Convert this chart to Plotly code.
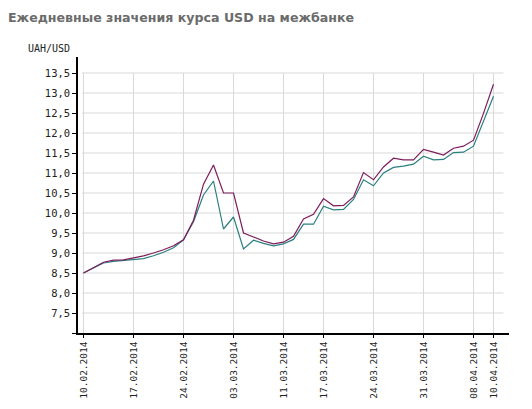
import plotly.graph_objects as go

dates = ["10.02.2014", "11.02.2014", "12.02.2014", "13.02.2014", "14.02.2014",
         "17.02.2014", "18.02.2014", "19.02.2014", "20.02.2014", "21.02.2014",
         "24.02.2014", "25.02.2014", "26.02.2014", "27.02.2014", "28.02.2014",
         "03.03.2014", "04.03.2014", "05.03.2014", "06.03.2014", "07.03.2014",
         "11.03.2014", "12.03.2014", "13.03.2014", "14.03.2014",
         "17.03.2014", "18.03.2014", "19.03.2014", "20.03.2014", "21.03.2014",
         "24.03.2014", "25.03.2014", "26.03.2014", "27.03.2014", "28.03.2014",
         "31.03.2014", "01.04.2014", "02.04.2014", "03.04.2014", "04.04.2014",
         "08.04.2014", "09.04.2014", "10.04.2014"]

sell = [8.50, 8.63, 8.77, 8.82, 8.83, 8.88, 8.93, 9.00, 9.08, 9.18,
        9.33, 9.82, 10.72, 11.20, 10.50, 10.50, 9.50, 9.40, 9.30, 9.23,
        9.27, 9.42, 9.85, 9.97, 10.36, 10.18, 10.19, 10.40, 11.01,
        10.83, 11.15, 11.37, 11.33, 11.33, 11.59, 11.52, 11.45, 11.62, 11.67,
        11.82, 12.49, 13.22]

buy = [8.50, 8.62, 8.75, 8.79, 8.81, 8.84, 8.86, 8.93, 9.02, 9.13,
       9.33, 9.78, 10.45, 10.80, 9.60, 9.90, 9.10, 9.32, 9.24, 9.18,
       9.23, 9.34, 9.72, 9.72, 10.17, 10.08, 10.09, 10.34, 10.83,
       10.68, 11.00, 11.14, 11.17, 11.22, 11.42, 11.33, 11.34, 11.51, 11.52,
       11.67, 12.28, 12.92]

tick_dates = ["10.02.2014", "17.02.2014", "24.02.2014", "03.03.2014", "11.03.2014",
              "17.03.2014", "24.03.2014", "31.03.2014", "08.04.2014", "10.04.2014"]

y_ticks = [7.0, 7.5, 8.0, 8.5, 9.0, 9.5, 10.0, 10.5, 11.0, 11.5, 12.0, 12.5, 13.0, 13.5]
y_labels = ["" if v == 7.0 else f"{v:.1f}".replace(".", ",") for v in y_ticks]

title = "Ежедневные значения курса USD на межбанке"
unit = "UAH/USD"

x_idx = list(range(len(dates)))
tickvals = [dates.index(d) for d in tick_dates]

GRID = "#d9d9d9"
mono = "DejaVu Sans Mono"

# the page adds an 8px body margin, so the figure is laid out 8px in from the top-left
W, H = 516, 393
ML, MT, MR, MB = 70, 49, 15, 68
plot_w = W - ML - MR
plot_h = H - MT - MB

fig = go.Figure()
fig.add_trace(go.Scatter(x=x_idx, y=buy, mode="lines",
                         line=dict(color="#2b7f80", width=1.2), hoverinfo="skip"))
fig.add_trace(go.Scatter(x=x_idx, y=sell, mode="lines",
                         line=dict(color="#7d1d5c", width=1.2), hoverinfo="skip"))

shapes = []
for tv in tickvals:
    shapes.append(dict(type="line", xref="x", yref="y", x0=tv, x1=tv,
                       y0=y_ticks[0], y1=y_ticks[-1], layer="below",
                       line=dict(color=GRID, width=1)))
for yv in y_ticks[1:]:
    shapes.append(dict(type="line", xref="x", yref="y", x0=-0.15, x1=42.0,
                       y0=yv, y1=yv, layer="below",
                       line=dict(color=GRID, width=1)))

fig.update_layout(
    width=W, height=H,
    margin=dict(l=ML, r=MR, t=MT, b=MB),
    paper_bgcolor="white", plot_bgcolor="white",
    showlegend=False,
    shapes=shapes,
    title=dict(text=title, x=0.0, xanchor="left", xref="container",
               y=1 - 10 / H, yref="container", yanchor="middle", automargin=False,
               font=dict(family="DejaVu Sans", size=12.6, color="#6b6b6b", weight="bold")),
    annotations=[dict(text=unit, xref="paper", yref="paper", x=-6 / plot_w,
                      y=1 + 9 / plot_h, xanchor="right", yanchor="middle",
                      showarrow=False,
                      font=dict(family=mono, size=10, color="#222"))],
    xaxis=dict(range=[-0.55, 42.55], tickmode="array", tickvals=tickvals,
               ticktext=tick_dates, tickangle=-90, showgrid=False, zeroline=False,
               showline=True, linecolor="black", linewidth=1.5, automargin=False,
               ticks="outside", ticklen=3, tickcolor="black",
               tickfont=dict(family=mono, size=9.5, color="#222")),
    yaxis=dict(range=[7.0, 13.9], tickmode="array", tickvals=y_ticks, ticktext=y_labels,
               showgrid=False, zeroline=False, showline=True, linecolor="black",
               linewidth=1.5, ticks="outside", ticklen=4, tickcolor="black",
               automargin=False,
               tickfont=dict(family=mono, size=10.5, color="#222")),
)

fig.write_html("out.html")
